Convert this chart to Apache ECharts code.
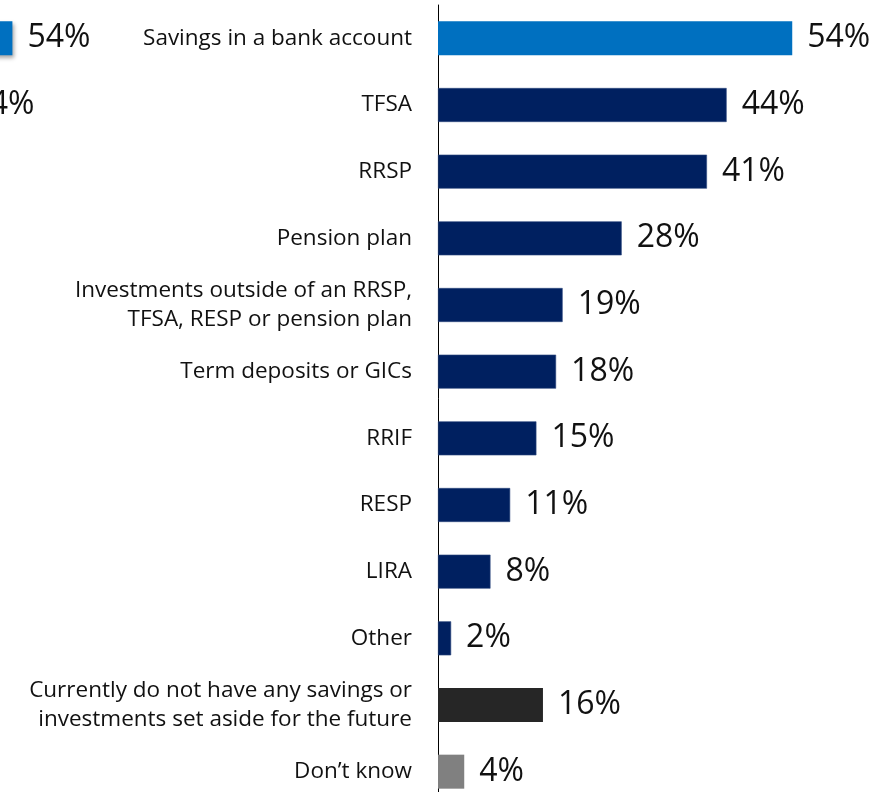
<!DOCTYPE html>
<html>
<head>
<meta charset="utf-8">
<script src="https://cdn.jsdelivr.net/npm/echarts@6/dist/echarts.min.js"></script>
<style>
  html, body { margin: 0; padding: 0; background: #fff; }
  #chart { width: 880px; height: 792px; }
</style>
</head>
<body>
<div id="chart"></div>
<script>
// survey categories, top to bottom
const categories = [
  'Savings in a bank account',
  'TFSA',
  'RRSP',
  'Pension plan',
  'Investments outside of an RRSP,\nTFSA, RESP or pension plan',
  'Term deposits or GICs',
  'RRIF',
  'RESP',
  'LIRA',
  'Other',
  'Currently do not have any savings or\ninvestments set aside for the future',
  'Don\u2019t know'
]
const percents = [54, 44, 41, 28, 19, 18, 15, 11, 8, 2, 16, 4]

// cut-off edge of the neighbouring chart on the left
const ghostCategories = ['a', 'b']
const ghostPercents = [54, 44]

const barColors = ['#0070C0', '#002060', '#002060', '#002060', '#002060', '#002060',
  '#002060', '#002060', '#002060', '#002060', '#262626', '#808080']

const font = '"Open Sans", sans-serif'

const chart = echarts.init(document.getElementById('chart'))

chart.setOption({
  animation: false,
  backgroundColor: '#fff',
  grid: [
    { left: 438, top: 5, width: 656, height: 800, outerBoundsMode: 'none', containLabel: false },
    { left: -290, top: 5, width: 560, height: 133.3, outerBoundsMode: 'none', containLabel: false }
  ],
  xAxis: [
    { gridIndex: 0, type: 'value', min: 0, max: 100, show: false },
    { gridIndex: 1, type: 'value', min: 0, max: 100, show: false }
  ],
  yAxis: [
    {
      gridIndex: 0,
      type: 'category',
      inverse: true,
      data: categories,
      axisLine: { show: true, lineStyle: { color: '#000', width: 1 } },
      axisTick: { show: false },
      axisLabel: {
        margin: 26,
        color: '#111',
        fontSize: 22.5,
        lineHeight: 29,
        fontFamily: font,
        align: 'right'
      }
    },
    {
      gridIndex: 1,
      type: 'category',
      inverse: true,
      data: ghostCategories,
      show: false
    }
  ],
  series: [
    {
      type: 'bar',
      xAxisIndex: 0,
      yAxisIndex: 0,
      barCategoryGap: '49%',
      data: percents.map((v, i) => ({
        value: v,
        itemStyle: { color: barColors[i], borderColor: '#2f4a7f', borderWidth: i < 10 && i > 0 ? 0.6 : 0 }
      })),
      label: {
        show: true,
        position: 'right',
        distance: 15,
        formatter: p => p.value + '%',
        color: '#111',
        fontSize: 32,
        fontFamily: font
      }
    },
    {
      type: 'bar',
      xAxisIndex: 1,
      yAxisIndex: 1,
      barCategoryGap: '49%',
      data: ghostPercents.map((v, i) => ({
        value: v,
        itemStyle: {
          color: barColors[i],
          shadowColor: 'rgba(0,0,0,0.35)',
          shadowBlur: 4,
          shadowOffsetX: 2,
          shadowOffsetY: 3
        }
      })),
      label: {
        show: true,
        position: 'right',
        distance: 15,
        formatter: p => p.value + '%',
        color: '#111',
        fontSize: 32,
        fontFamily: font
      }
    }
  ]
})
</script>
</body>
</html>
